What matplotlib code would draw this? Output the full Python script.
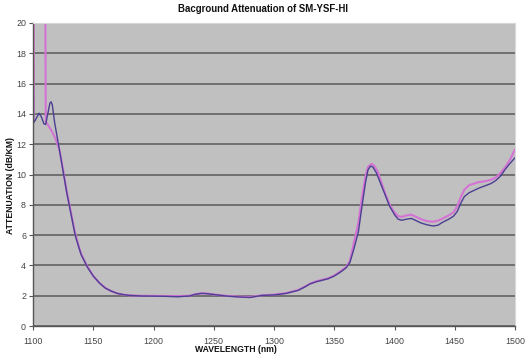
import matplotlib
matplotlib.use('Agg')
import matplotlib.pyplot as plt

# wavelength (nm) / attenuation (dB/km)
blue_wl = [1100, 1100.4, 1102, 1105, 1107, 1109, 1110.5, 1112, 1114, 1115, 1116, 1118,
           1120, 1122, 1125, 1128, 1130, 1133, 1135, 1138, 1140, 1145, 1150, 1155,
           1160, 1165, 1170, 1175, 1180, 1190, 1200, 1210, 1220, 1230, 1235, 1240,
           1245, 1250, 1260, 1270, 1280, 1285, 1290, 1300, 1310, 1320, 1325, 1330,
           1335, 1340, 1345, 1350, 1355, 1360, 1363, 1366, 1370, 1373, 1376, 1378,
           1380, 1382, 1385, 1388, 1390, 1393, 1396, 1400, 1403, 1406, 1410, 1414,
           1418, 1422, 1427, 1432, 1436, 1440, 1445, 1449, 1452, 1455, 1458, 1462,
           1466, 1470, 1475, 1480, 1484, 1488, 1492, 1496, 1500]
blue_att = [25, 13.4, 13.6, 14.05, 13.8, 13.35, 13.3, 13.9, 14.7, 14.8, 14.6, 13.4,
            12.5, 11.6, 10.2, 8.8, 8.0, 6.8, 6.0, 5.2, 4.7, 3.9, 3.3, 2.85,
            2.5, 2.3, 2.15, 2.07, 2.02, 1.98, 1.97, 1.96, 1.93, 1.98, 2.1, 2.15,
            2.13, 2.08, 1.98, 1.92, 1.88, 1.95, 2.02, 2.05, 2.15, 2.35, 2.55, 2.78,
            2.92, 3.02, 3.12, 3.3, 3.55, 3.85, 4.2, 5.0, 6.2, 7.9, 9.5, 10.3,
            10.55, 10.5, 10.1, 9.5, 9.1, 8.5, 7.9, 7.35, 7.05, 6.98, 7.05, 7.1,
            6.95, 6.8, 6.68, 6.6, 6.65, 6.85, 7.05, 7.25, 7.55, 8.1, 8.55, 8.8,
            8.95, 9.1, 9.25, 9.4, 9.6, 9.9, 10.35, 10.75, 11.1]

pink_wl = [1100, 1100.3, 1100.6, 1110, 1110.6, 1113, 1116, 1119, 1122, 1125, 1128,
           1130, 1133, 1135, 1138, 1140, 1145, 1150, 1155, 1160, 1165, 1170, 1175,
           1180, 1190, 1200, 1210, 1220, 1230, 1235, 1240, 1245, 1250, 1260, 1270,
           1280, 1285, 1290, 1300, 1310, 1320, 1325, 1330, 1335, 1340, 1345, 1350,
           1355, 1360, 1363, 1366, 1370, 1373, 1376, 1378, 1381, 1383, 1386, 1389,
           1392, 1396, 1400, 1403, 1406, 1410, 1414, 1418, 1422, 1427, 1432, 1436,
           1440, 1445, 1449, 1452, 1455, 1458, 1462, 1466, 1470, 1475, 1480, 1484,
           1488, 1492, 1496, 1500]
pink_att = [25, 13.5, 25, 25, 13.5, 13.2, 12.8, 12.3, 11.6, 10.3, 8.9,
            8.1, 6.9, 6.1, 5.25, 4.75, 3.95, 3.3, 2.85, 2.52, 2.3, 2.15, 2.07,
            2.02, 2.0, 1.99, 1.98, 1.97, 2.0, 2.1, 2.17,
            2.14, 2.08, 2.0, 1.94, 1.92, 1.97, 2.03, 2.07, 2.17, 2.38, 2.58, 2.8,
            2.95, 3.05, 3.15, 3.33, 3.6, 3.9, 4.3, 5.4, 6.8, 8.5, 9.9, 10.5,
            10.7, 10.6, 10.2, 9.5, 8.8, 8.0, 7.5, 7.25, 7.2, 7.3, 7.35, 7.2,
            7.05, 6.92, 6.88, 6.95, 7.1, 7.3, 7.5, 7.9, 8.5, 9.0, 9.3, 9.4,
            9.5, 9.55, 9.65, 9.8, 10.1, 10.5, 11.0, 11.65]

x_ticks = [1100, 1150, 1200, 1250, 1300, 1350, 1400, 1450, 1500]
y_ticks = [0, 2, 4, 6, 8, 10, 12, 14, 16, 18, 20]

plt.rcParams['font.family'] = ['Liberation Sans', 'DejaVu Sans']

W, H = 529, 359
fig = plt.figure(figsize=(W / 100, H / 100), dpi=100)
ax = fig.add_axes([33 / W, 1 - 326 / H, 482 / W, 303 / H])
ax.set_facecolor('#c0c0c0')

ax.plot(pink_wl, pink_att, color='#d473d4', lw=1.5)
ax.plot(blue_wl, blue_att, color='#4a3f92', lw=1.0)

ax.set_xlim(1100, 1500)
ax.set_ylim(0, 20)
ax.set_xticks(x_ticks)
ax.set_yticks(y_ticks)
ax.grid(axis='y', color='#5a5a5a', lw=1.1)
ax.set_axisbelow(True)

for s in ['top', 'right']:
    ax.spines[s].set_color('#d8d8d8')
    ax.spines[s].set_linewidth(0.8)
for s in ['left', 'bottom']:
    ax.spines[s].set_color('#555555')
    ax.spines[s].set_linewidth(1.0)

ax.tick_params(axis='both', labelsize=6.4, colors='#555555', labelcolor='#444444',
               length=3, width=0.8, direction='out')
ax.tick_params(axis='x', pad=5)
ax.tick_params(axis='y', pad=2)

fig.text(263 / W, 1 - 9 / H, 'Bacground Attenuation of SM-YSF-HI', fontsize=6.9,
         fontweight='bold', ha='center', va='center', color='#111111')
fig.text(236 / W, 1 - 350 / H, 'WAVELENGTH (nm)', fontsize=6.2, fontweight='bold',
         ha='center', va='center', color='#111111')
fig.text(11 / W, 1 - 186 / H, 'ATTENUATION (dB/KM)', fontsize=6.2, fontweight='bold',
         ha='center', va='center', rotation=90, color='#111111')

plt.savefig('out.png', dpi=100)
